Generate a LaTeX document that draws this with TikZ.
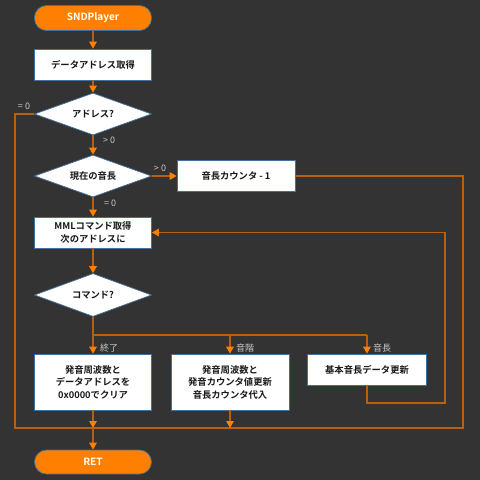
\documentclass[tikz,border=0pt]{standalone}
\usepackage{fontspec}
\setmainfont{Noto Sans CJK JP}[BoldFont={* Bold}]
\usetikzlibrary{arrows.meta,shapes.geometric,calc}
\definecolor{bg}{HTML}{333333}
\definecolor{org}{HTML}{FF8000}
\definecolor{lnc}{HTML}{B8600F}
\definecolor{bdr}{HTML}{41719C}
\definecolor{lbl}{HTML}{C8C8C8}
\begin{document}
\begin{tikzpicture}[x=1pt,y=-1pt,
  every node/.style={font=\fontsize{9.3}{12.5}\selectfont\bfseries, align=center, inner sep=0pt},
  procbox/.style={rectangle, draw=bdr, line width=0.7pt, fill=white, text=black!90},
  term/.style={rectangle, rounded corners=12pt, draw=bdr, line width=0.7pt, fill=org, text=white, font=\fontsize{10}{12}\selectfont\bfseries},
  decis/.style={diamond, aspect=2.8, draw=bdr, line width=0.7pt, fill=white, text=black!90},
  conn/.style={color=lnc, line width=1.4pt},
  arr/.style={conn, -{Triangle[length=7pt,width=7.5pt,color=org]}},
  lab/.style={font=\fontsize{9}{10}\selectfont, text=lbl}]
\fill[bg] (0,0) rectangle (480,480);
\useasboundingbox (0,0) rectangle (480,480);
% nodes
\node[term, minimum width=117pt, minimum height=25pt] (start) at (93,18) {SNDPlayer};
\node[procbox, minimum width=117pt, minimum height=31pt] (b1) at (93,64.5) {データアドレス取得};
\node[decis, minimum width=117pt, minimum height=42pt] (d1) at (93,114) {アドレス?};
\node[decis, minimum width=117pt, minimum height=42pt] (d2) at (93,176) {現在の音長};
\node[procbox, minimum width=118pt, minimum height=31pt] (bc) at (236,176) {音長カウンタ - 1};
\node[procbox, minimum width=117pt, minimum height=31pt] (bm) at (93,232.5) {MMLコマンド取得\\次のアドレスに};
\node[decis, minimum width=117pt, minimum height=43pt] (d3) at (93,295) {コマンド?};
\node[procbox, minimum width=117pt, minimum height=56pt] (e1) at (93,382) {発音周波数と\\データアドレスを\\0x0000でクリア};
\node[procbox, minimum width=118pt, minimum height=56pt] (e2) at (230,382) {発音周波数と\\発音カウンタ値更新\\音長カウンタ代入};
\node[procbox, minimum width=119pt, minimum height=31pt] (e3) at (367,369.5) {基本音長データ更新};
\node[term, minimum width=117pt, minimum height=24pt] (ret) at (93,462) {RET};
% coordinates
\coordinate (bus) at (93,335);
\coordinate (bus2) at (230,335);
\coordinate (bus3) at (367,335);
\coordinate (jn) at (93,428);
\coordinate (jn2) at (230,428);
\coordinate (ll) at (15,428);
\coordinate (rr) at (463,428);
\coordinate (lp1) at (367,403);
\coordinate (lp2) at (445,403);
% connectors
\draw[arr] (start) -- (b1);
\draw[arr] (b1) -- (d1);
\draw[arr] (d1) -- (d2);
\draw[arr] (d2) -- (bc);
\draw[arr] (d2) -- (bm);
\draw[arr] (bm) -- (d3);
\draw[conn] (d1.west) -| (ll) -- (jn);
\draw[conn] (bc.east) -| (rr) -- (jn);
\draw[conn] (d3.south) -- (bus) -- (bus3);
\draw[arr] (bus) -- (e1.north);
\draw[arr] (bus2) -- (e2.north);
\draw[arr] (bus3) -- (e3.north);
\draw[arr] (e3.south) -- (lp1) -- (lp2) |- (bm.east);
\draw[arr] (e1.south -| jn) -- (jn);
\draw[arr] (e2.south) -- (jn2);
\draw[arr] (jn) -- (ret.north);
% labels
\node[lab, anchor=west] (l1) at (103,140) {> 0};
\node[lab] (l2) at (24,106) {= 0};
\node[lab] (l3) at (160,168) {> 0};
\node[lab, anchor=west] (l4) at (104,203) {= 0};
\node[lab, anchor=west] (l5) at (100,348) {終了};
\node[lab, anchor=west] (l6) at (236,348) {音階};
\node[lab, anchor=west] (l7) at (373,348) {音長};
\end{tikzpicture}
\end{document}
